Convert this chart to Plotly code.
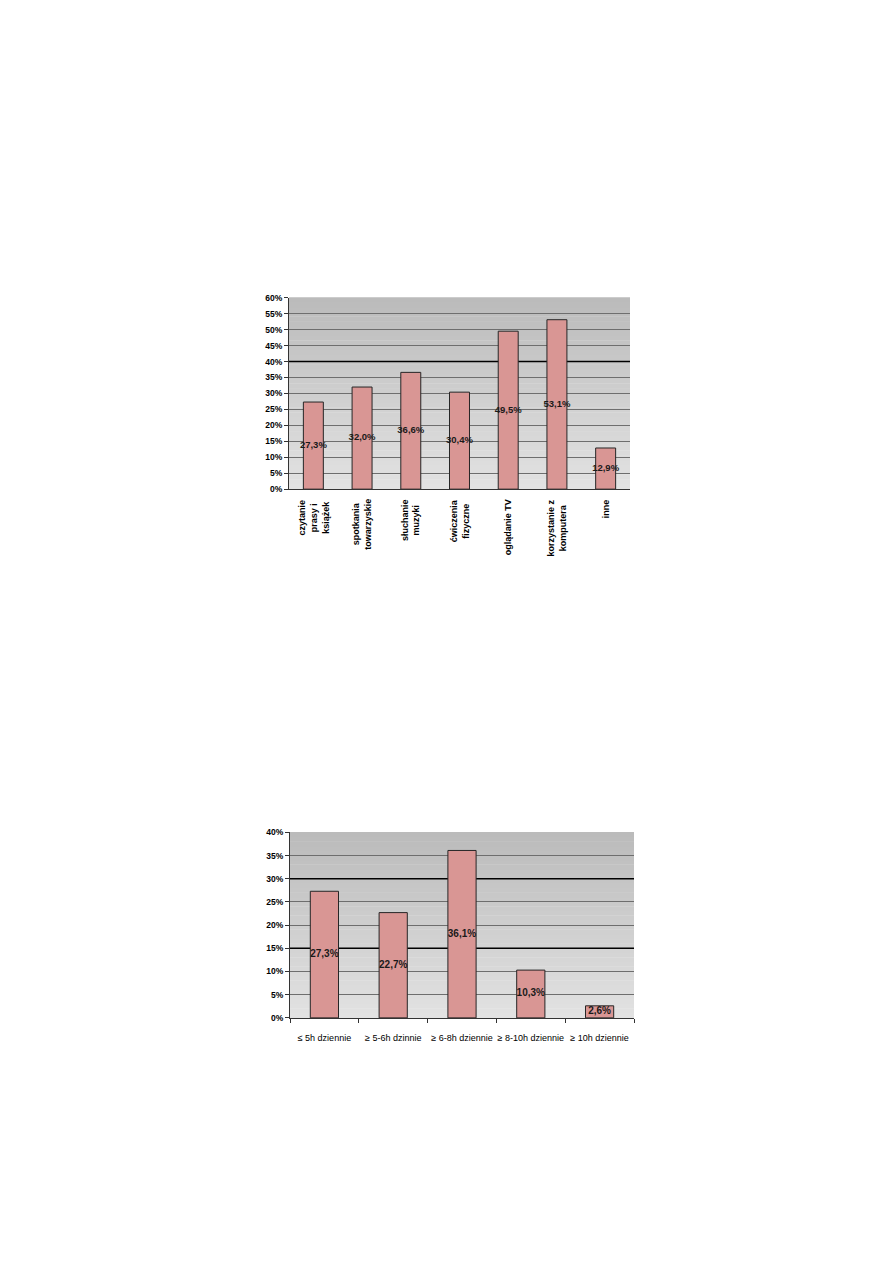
import plotly.graph_objects as go

W, H = 893, 1263
PAD = 8  # default body margin of the html page

# chart 1 - sposoby spędzania czasu wolnego
activities = [
    "czytanie<br>prasy i<br>książek",
    "spotkania<br>towarzyskie",
    "słuchanie<br>muzyki",
    "ćwiczenia<br>fizyczne",
    "oglądanie TV",
    "korzystanie z<br>komputera",
    "inne",
]
activity_pct = [27.3, 32.0, 36.6, 30.4, 49.5, 53.1, 12.9]

# chart 2 - czas spędzany dziennie
hours = [
    "≤ 5h dziennie",
    "≥ 5-6h dzinnie",
    "≥ 6-8h dziennie",
    "≥ 8-10h dziennie",
    "≥ 10h dziennie",
]
hours_pct = [27.3, 22.7, 36.1, 10.3, 2.6]

y1_ticks = list(range(0, 61, 5))
y2_ticks = list(range(0, 41, 5))
y1_major = [40]
y2_major = [15, 30]

BAR = "#d99694"
NARROW = "Liberation Sans Narrow, Arial Narrow, Liberation Sans, Arial, sans-serif"
FW, FH = W - 2 * PAD, H - 2 * PAD


def px_x(a, b):
    return [(a - PAD) / FW, (b - PAD) / FW]


def px_y(top, bottom):
    return [1 - (bottom - PAD) / FH, 1 - (top - PAD) / FH]


def pct_text(vals):
    return [f"{v:.1f}%".replace(".", ",") for v in vals]


fig = go.Figure()

for cats, vals, xa, ya, fs in ((activities, activity_pct, "x", "y", 9.5),
                               (hours, hours_pct, "x2", "y2", 10)):
    fig.add_trace(go.Bar(
        x=cats, y=vals, xaxis=xa, yaxis=ya,
        marker=dict(color=BAR, line=dict(color="#262626", width=1)),
        width=0.41, showlegend=False, hoverinfo="x+y",
    ))
    fig.add_trace(go.Scatter(
        x=cats, y=[v / 2 for v in vals], xaxis=xa, yaxis=ya,
        mode="text", text=pct_text(vals),
        textfont=dict(family=NARROW, size=fs, color="#1a1a1a", weight="bold"),
        showlegend=False, hoverinfo="skip",
    ))

# gradient background of the plot areas (Excel style)
shapes = []
n = 40
for xa, ya in (("x", "y"), ("x2", "y2")):
    for i in range(n):
        t = i / (n - 1)
        c = int(0xe2 - (0xe2 - 0xbb) * t)
        shapes.append(dict(
            type="rect", xref=f"{xa} domain", yref=f"{ya} domain",
            x0=0, x1=1, y0=i / n, y1=(i + 1) / n + 0.002,
            fillcolor=f"rgb({c},{c},{c})", line=dict(width=0),
            layer="below",
        ))
for ya, xa, vals in (("y", "x", y1_major), ("y2", "x2", y2_major)):
    for v in vals:
        shapes.append(dict(
            type="line", xref=f"{xa} domain", yref=ya,
            x0=0, x1=1, y0=v, y1=v,
            line=dict(color="#000000", width=1.4), layer="below",
        ))

# rotated category labels of chart 1, lines centred like in Excel
annotations = [
    dict(x=c, y=0, xref="x", yref="y domain", text=c, textangle=-90,
         showarrow=False, xanchor="center", yanchor="top", align="center",
         yshift=-8,
         font=dict(family="Liberation Sans, Arial, sans-serif", size=9,
                   color="#000000", weight="bold"))
    for c in activities
]

axis_font = dict(family=NARROW, size=8.5, color="#000000", weight="bold")


def yaxis(dom, top, ticks, major, anchor):
    return dict(
        domain=dom, anchor=anchor, range=[0, top],
        tickvals=ticks, ticktext=[f"{t}%" for t in ticks],
        showgrid=False,
        minor=dict(tickvals=[t for t in ticks if t not in major and t != 0],
                   showgrid=True, gridcolor="#6e6e6e", gridwidth=1, ticks=""),
        showline=True, linecolor="#333", linewidth=1,
        ticks="outside", ticklen=4, tickcolor="#333",
        tickfont=axis_font, zeroline=False, fixedrange=True,
    )


fig.update_layout(
    width=FW, height=FH,
    paper_bgcolor="white", plot_bgcolor="white",
    margin=dict(l=0, r=0, t=0, b=0),
    shapes=shapes,
    annotations=annotations,
    xaxis=dict(
        domain=px_x(289, 630), anchor="y", type="category",
        showticklabels=False, showline=True, linecolor="#333", linewidth=1,
        ticks="", showgrid=False, fixedrange=True,
    ),
    yaxis=yaxis(px_y(295, 488), 60, y1_ticks, y1_major, "x"),
    xaxis2=dict(
        domain=px_x(290, 634), anchor="y2", type="category",
        tickangle=0, showline=True, linecolor="#333", linewidth=1,
        ticks="outside", ticklen=4, tickcolor="#333", tickson="boundaries",
        ticklabelstandoff=11, showgrid=False, fixedrange=True,
        tickfont=dict(family=NARROW, size=9, color="#000000"),
    ),
    yaxis2=yaxis(px_y(834, 1021), 40, y2_ticks, y2_major, "x2"),
)

fig.write_html("out.html")
